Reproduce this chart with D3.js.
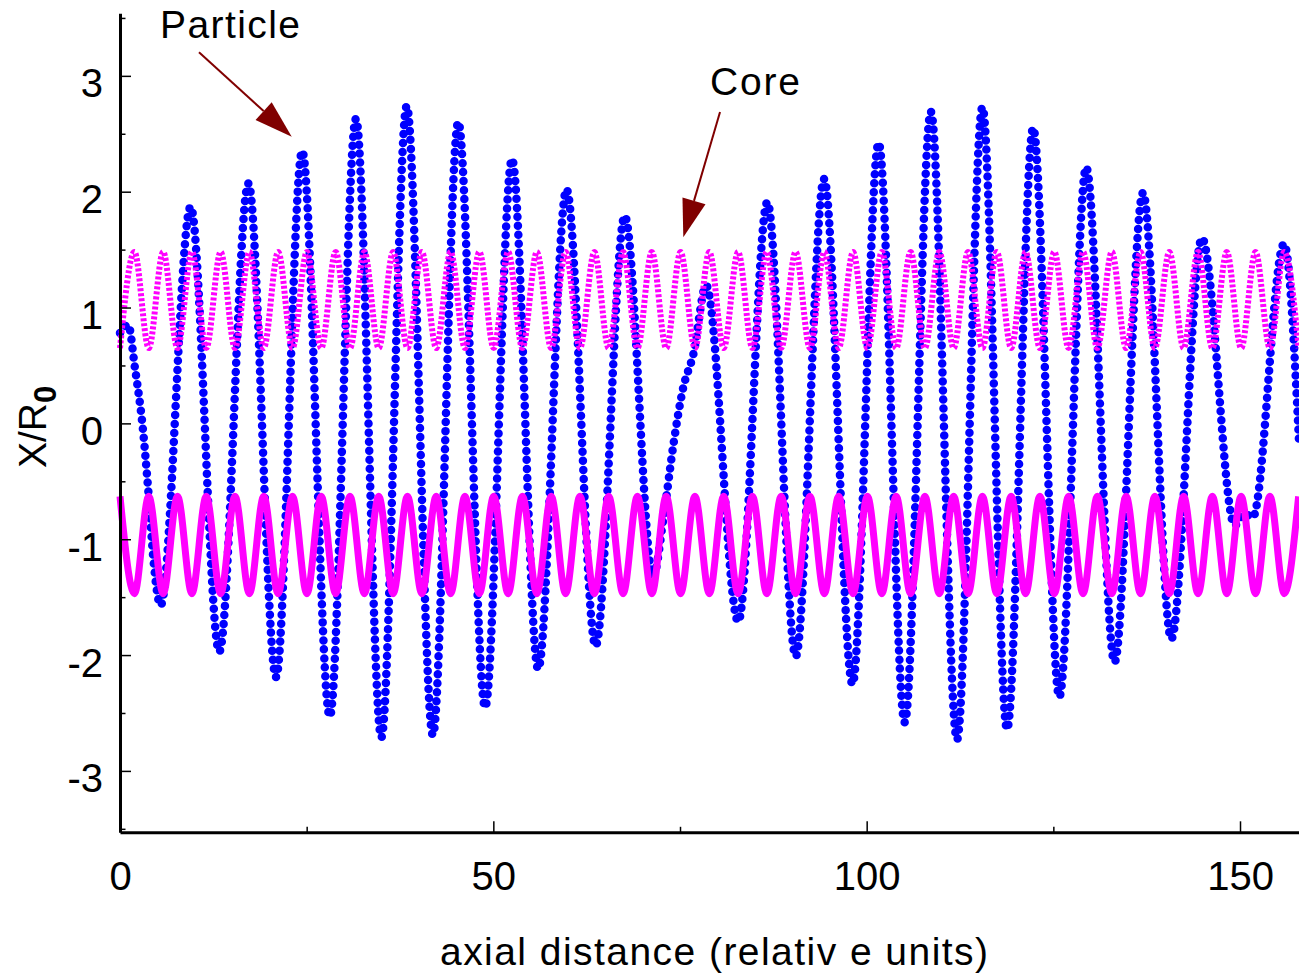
<!DOCTYPE html>
<html>
<head>
<meta charset="utf-8">
<title>Particle and core</title>
<script src="https://d3js.org/d3.v7.min.js"></script>
<style>
  body { margin: 0; background: #fff; }
  text { font-family: "Liberation Sans", Arial, sans-serif; fill: #000; }
  .axis path { stroke: #000; stroke-width: 3px; }
  .axis line { stroke: #000; stroke-width: 1.5px; }
  .axis text { font-size: 40px; }
  .label { font-size: 39px; }
</style>
</head>
<body>
<svg id="main" width="1299" height="975"></svg>
<script>
// particle trajectory, turning points
var particleX = [0, 1.1, 2.0, 3.1, 3.8, 4.5, 5.44, 9.46, 13.3, 17.2, 20.9, 24.4, 28.1, 31.6, 35.0,
  38.4, 41.9, 45.3, 48.9, 52.5, 56.0, 59.8, 63.7, 67.6, 71.4, 72.8, 74.1, 75.4, 76.8, 78.5,
  82.8, 86.7, 90.5, 94.3, 98.1, 101.6, 105.1, 108.6, 112.1, 115.5, 118.8, 122.3, 125.8, 129.4,
  133.2, 137.0, 140.8, 144.9, 149.3, 150.6, 151.7, 155.9, 157.9];
var particleY = [0.78, 0.85, 0.48, -0.07, -0.59, -1.19, -1.57, 1.87, -1.97, 2.07, -2.19, 2.35, -2.53, 2.63, -2.71,
  2.74, -2.69, 2.60, -2.45, 2.28, -2.12, 2.02, -1.92, 1.79, -1.32, -0.81, -0.19, 0.30, 0.60, 1.19,
  -1.71, 1.91, -2.01, 2.11, -2.25, 2.42, -2.58, 2.69, -2.73, 2.73, -2.64, 2.55, -2.36, 2.21,
  -2.06, 1.99, -1.86, 1.60, -0.88, -0.78, -0.81, 1.55, -0.15];

// core edges: upper one dotted, lower one solid (turning points)
var coreX = [0, 1.93, 3.85, 5.78, 7.70, 9.63, 11.55, 13.48, 15.40, 17.33, 19.25, 21.18, 23.10, 25.03,
  26.95, 28.88, 30.80, 32.73, 34.65, 36.58, 38.50, 40.43, 42.35, 44.28, 46.20, 48.13, 50.05, 51.98,
  53.90, 55.83, 57.75, 59.68, 61.60, 63.53, 65.45, 67.38, 69.30, 71.23, 73.15, 75.08, 77.00, 78.93,
  80.85, 82.78, 84.70, 86.63, 88.55, 90.48, 92.40, 94.33, 96.25, 98.18, 100.10, 102.03, 103.95,
  105.88, 107.80, 109.73, 111.65, 113.58, 115.50, 117.43, 119.35, 121.28, 123.20, 125.13, 127.05,
  128.98, 130.90, 132.83, 134.75, 136.68, 138.60, 140.53, 142.45, 144.38, 146.30, 148.23, 150.15,
  152.08, 154.00, 155.93, 157.85];
var coreUpper = [0.65, 1.48, 0.65, 1.48, 0.65, 1.48, 0.65, 1.48, 0.65, 1.48, 0.65, 1.48, 0.65, 1.48,
  0.65, 1.48, 0.65, 1.48, 0.65, 1.48, 0.65, 1.48, 0.65, 1.48, 0.65, 1.48, 0.65, 1.48,
  0.65, 1.48, 0.65, 1.48, 0.65, 1.48, 0.65, 1.48, 0.65, 1.48, 0.65, 1.48, 0.65, 1.48,
  0.65, 1.48, 0.65, 1.48, 0.65, 1.48, 0.65, 1.48, 0.65, 1.48, 0.65, 1.48, 0.65,
  1.48, 0.65, 1.48, 0.65, 1.48, 0.65, 1.48, 0.65, 1.48, 0.65, 1.48, 0.65,
  1.48, 0.65, 1.48, 0.65, 1.48, 0.65, 1.48, 0.65, 1.48, 0.65, 1.48, 0.65,
  1.48, 0.65, 1.48, 0.65];
var coreLower = [-0.63, -1.47, -0.63, -1.47, -0.63, -1.47, -0.63, -1.47, -0.63, -1.47, -0.63, -1.47, -0.63, -1.47,
  -0.63, -1.47, -0.63, -1.47, -0.63, -1.47, -0.63, -1.47, -0.63, -1.47, -0.63, -1.47, -0.63, -1.47,
  -0.63, -1.47, -0.63, -1.47, -0.63, -1.47, -0.63, -1.47, -0.63, -1.47, -0.63, -1.47, -0.63, -1.47,
  -0.63, -1.47, -0.63, -1.47, -0.63, -1.47, -0.63, -1.47, -0.63, -1.47, -0.63, -1.47, -0.63,
  -1.47, -0.63, -1.47, -0.63, -1.47, -0.63, -1.47, -0.63, -1.47, -0.63, -1.47, -0.63,
  -1.47, -0.63, -1.47, -0.63, -1.47, -0.63, -1.47, -0.63, -1.47, -0.63, -1.47, -0.63,
  -1.47, -0.63, -1.47, -0.63];

var xMajor = [0, 50, 100, 150];
var xMinor = [25, 75, 125];
var yMajor = [-3, -2, -1, 0, 1, 2, 3];
var yMinor = [-3.5, -2.5, -1.5, -0.5, 0.5, 1.5, 2.5, 3.5];

var svg = d3.select('#main');

var x = d3.scaleLinear().domain([0, 157.9]).range([120, 1299]);
var y = d3.scaleLinear().domain([-3.53, 3.54]).range([832.3, 13.3]);

var line = d3.line()
  .x(function(d) { return x(d[0]); })
  .y(function(d) { return y(d[1]); })
  .curve(d3.curveMonotoneX);

// particle first, core edges drawn over it
svg.append('path')
  .attr('d', line(d3.zip(particleX, particleY)))
  .attr('fill', 'none')
  .attr('stroke', '#0000ff')
  .attr('stroke-width', 8.5)
  .attr('stroke-linecap', 'round')
  .attr('stroke-dasharray', '0 9');

svg.append('path')
  .attr('d', line(d3.zip(coreX, coreUpper)))
  .attr('fill', 'none')
  .attr('stroke', '#ff00ff')
  .attr('stroke-width', 6)
  .attr('stroke-dasharray', '3 2');

svg.append('path')
  .attr('d', line(d3.zip(coreX, coreLower)))
  .attr('fill', 'none')
  .attr('stroke', '#ff00ff')
  .attr('stroke-width', 7);

// axes, ticks pointing inward
var yAxis = svg.append('g').attr('class', 'axis').attr('transform', 'translate(120,0)')
  .call(d3.axisLeft(y).tickValues(yMajor).tickSize(-11).tickSizeOuter(0).tickPadding(17)
    .tickFormat(function(d) { return String(d); }));
yAxis.selectAll('text').attr('dy', 21);
svg.append('g').attr('class', 'axis').attr('transform', 'translate(120,0)')
  .call(d3.axisLeft(y).tickValues(yMinor).tickSize(-5.5).tickFormat(''))
  .select('.domain').remove();

var xAxis = svg.append('g').attr('class', 'axis').attr('transform', 'translate(0,832.3)')
  .call(d3.axisBottom(x).tickValues(xMajor).tickSize(-11).tickSizeOuter(0).tickPadding(29)
    .tickFormat(function(d) { return String(d); }));
xAxis.selectAll('text').attr('dy', '0.71em');
svg.append('g').attr('class', 'axis').attr('transform', 'translate(0,832.3)')
  .call(d3.axisBottom(x).tickValues(xMinor).tickSize(-5.5).tickFormat(''))
  .select('.domain').remove();

// axis titles
svg.append('text').attr('class', 'label')
  .attr('x', 714).attr('y', 965)
  .attr('text-anchor', 'middle')
  .attr('textLength', 548)
  .text('axial distance (relativ e units)');

var yt = svg.append('text').attr('class', 'label')
  .attr('transform', 'translate(46,468) rotate(-90)');
yt.append('tspan').text('X/R');
yt.append('tspan').attr('dy', 10).style('font-size', '31px').style('font-weight', 'bold').text('0');

// annotations with arrows
function arrow(x0, y0, x1, y1) {
  var px0 = x(x0), py0 = y(y0), px1 = x(x1), py1 = y(y1);
  var dx = px1 - px0, dy = py1 - py0, len = Math.sqrt(dx * dx + dy * dy);
  var ux = dx / len, uy = dy / len;
  var bx = px1 - ux * 38, by = py1 - uy * 38;
  svg.append('line')
    .attr('x1', px0).attr('y1', py0).attr('x2', bx).attr('y2', by)
    .attr('stroke', '#800000').attr('stroke-width', 2);
  svg.append('polygon')
    .attr('points', [[px1, py1], [bx - uy * 12, by + ux * 12], [bx + uy * 12, by - ux * 12]].join(' '))
    .attr('fill', '#800000');
}

svg.append('text').attr('class', 'label').attr('x', x(5.36)).attr('y', y(3.327))
  .attr('textLength', 140).text('Particle');
arrow(10.58, 3.203, 23.0, 2.475);

svg.append('text').attr('class', 'label').attr('x', x(79.02)).attr('y', y(2.835))
  .attr('textLength', 90).text('Core');
arrow(80.36, 2.688, 75.44, 1.606);
</script>
</body>
</html>
